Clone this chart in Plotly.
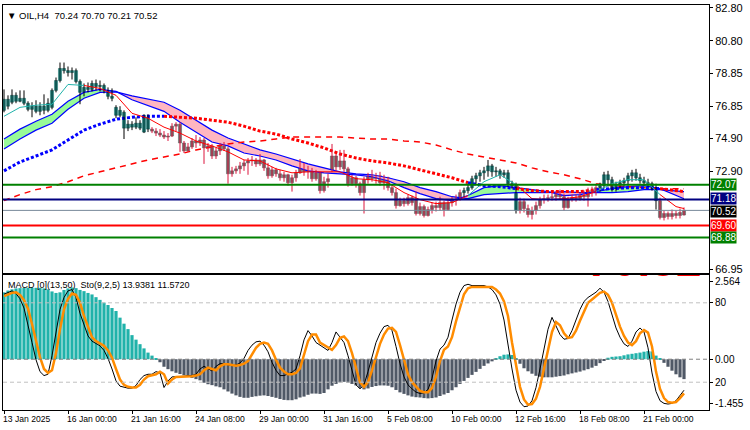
import plotly.graph_objects as go

# ---------------- data ----------------
bars = list(range(171))
opens = [76.59, 77.26, 77.08, 77.50, 77.14, 77.32, 77.02, 76.65, 76.84, 76.53,
         76.84, 76.59, 76.77, 77.80, 78.40, 79.13, 79.00, 78.88, 79.00, 78.34,
         77.68, 77.98, 77.86, 78.22, 78.04, 78.10, 77.74, 77.44, 76.77, 76.29,
         76.47, 75.51, 75.75, 75.57, 75.81, 75.27, 76.17, 75.45, 75.33, 75.21,
         75.09, 74.97, 75.03, 75.63, 75.75, 74.61, 74.13, 74.37, 74.73, 74.61,
         74.79, 74.31, 74.43, 73.82, 74.13, 74.43, 74.25, 72.74, 72.92, 73.04,
         73.22, 73.40, 73.52, 73.58, 73.34, 73.58, 73.10, 72.62, 72.98, 72.74,
         72.50, 72.68, 72.20, 72.50, 72.80, 73.28, 72.86, 72.98, 72.44, 72.80,
         71.72, 72.26, 72.98, 73.82, 73.16, 73.52, 73.04, 72.14, 72.50, 72.14,
         71.60, 72.38, 72.62, 72.44, 72.62, 72.20, 72.50, 71.90, 71.60, 70.81,
         71.11, 70.93, 71.29, 71.23, 70.33, 70.75, 70.21, 70.57, 70.81, 70.69,
         70.99, 70.57, 70.99, 71.17, 71.29, 71.60, 71.72, 71.90, 72.44, 72.62,
         72.80, 72.92, 73.22, 72.86, 72.92, 72.68, 72.80, 72.14, 72.02, 70.51,
         71.05, 70.63, 70.27, 70.51, 70.81, 71.17, 71.23, 71.29, 71.35, 71.48,
         71.35, 70.69, 71.17, 71.29, 71.23, 71.42, 71.35, 71.72, 71.66, 71.90,
         72.02, 72.68, 72.38, 71.84, 72.08, 72.20, 72.32, 72.62, 72.80, 72.50,
         72.32, 72.20, 72.14, 71.90, 71.11, 70.09, 70.33, 70.15, 70.33, 70.21,
         70.24]
highs = [77.86, 77.50, 77.86, 77.68, 77.80, 77.80, 77.14, 77.08, 77.20, 77.08,
         77.56, 77.32, 77.92, 78.58, 79.49, 79.49, 79.25, 79.19, 79.13, 78.46,
         78.22, 78.28, 78.40, 78.46, 78.40, 78.22, 77.98, 77.92, 76.90, 76.84,
         76.59, 75.99, 75.93, 76.17, 75.99, 76.35, 76.35, 75.57, 75.51, 75.45,
         75.33, 75.21, 75.81, 75.87, 75.87, 74.73, 74.61, 74.91, 75.09, 74.97,
         74.91, 74.61, 74.55, 74.31, 74.61, 74.67, 74.37, 73.16, 73.22, 73.46,
         73.58, 73.70, 73.82, 73.70, 73.94, 73.64, 73.40, 73.16, 73.10, 72.98,
         72.86, 72.74, 72.68, 72.98, 73.64, 73.40, 73.22, 73.10, 72.98, 72.86,
         72.56, 72.74, 74.55, 73.94, 74.19, 74.19, 73.16, 72.68, 72.62, 72.26,
         72.56, 72.80, 72.98, 72.80, 72.86, 72.68, 72.56, 72.08, 71.84, 71.29,
         71.29, 71.48, 71.42, 71.66, 70.99, 70.87, 70.75, 70.99, 71.05, 71.35,
         71.11, 71.17, 71.35, 71.48, 71.78, 71.90, 72.08, 72.62, 72.80, 72.98,
         73.16, 73.58, 73.34, 73.16, 73.04, 72.98, 72.98, 72.32, 72.20, 71.29,
         71.23, 70.87, 70.75, 71.05, 71.35, 71.48, 71.48, 71.60, 71.66, 71.78,
         71.54, 71.35, 71.48, 71.48, 71.60, 71.72, 71.90, 71.96, 72.08, 72.20,
         72.86, 72.92, 72.56, 72.26, 72.38, 72.50, 72.80, 72.98, 73.04, 72.74,
         72.56, 72.44, 72.26, 72.14, 71.29, 70.51, 70.45, 70.57, 70.51, 70.63,
         70.70]
lows = [76.47, 76.65, 76.96, 77.02, 77.08, 76.90, 76.53, 76.17, 76.41, 76.29,
        76.35, 76.47, 76.65, 77.68, 78.28, 78.82, 78.64, 78.46, 78.22, 76.96,
        77.44, 77.68, 77.74, 77.80, 77.74, 77.62, 77.26, 77.14, 76.11, 76.17,
        74.85, 75.33, 75.39, 75.45, 75.39, 75.21, 75.27, 75.21, 75.03, 74.97,
        74.85, 74.73, 74.97, 75.33, 74.07, 74.00, 74.07, 74.25, 74.31, 74.43,
        73.34, 74.07, 73.64, 73.64, 73.88, 74.13, 72.14, 72.56, 72.74, 72.74,
        72.92, 72.68, 73.22, 73.16, 73.22, 72.92, 72.44, 72.50, 72.56, 72.32,
        72.26, 72.02, 71.66, 72.26, 72.74, 72.62, 72.44, 72.26, 72.32, 71.54,
        71.60, 71.90, 72.86, 72.92, 72.98, 72.86, 71.96, 72.02, 71.90, 71.42,
        70.33, 72.14, 72.26, 72.14, 72.02, 71.78, 71.72, 71.42, 70.63, 70.75,
        70.75, 70.81, 70.81, 70.21, 70.21, 70.09, 70.15, 70.33, 70.45, 70.51,
        70.15, 70.51, 70.75, 70.81, 71.11, 71.35, 71.54, 71.78, 72.14, 72.26,
        72.38, 72.56, 72.56, 72.56, 72.44, 72.50, 71.96, 71.84, 70.33, 70.33,
        70.39, 70.09, 69.97, 70.27, 70.63, 70.93, 71.05, 71.11, 71.11, 71.17,
        70.51, 70.63, 71.05, 71.05, 71.11, 71.11, 70.75, 71.35, 71.42, 71.66,
        71.84, 71.96, 71.66, 71.66, 71.84, 71.96, 72.02, 72.26, 72.32, 72.14,
        72.02, 71.96, 71.72, 70.57, 69.97, 69.91, 69.97, 69.97, 70.03, 70.03,
        70.21]
closes = [77.26, 76.84, 77.50, 77.14, 77.32, 77.02, 76.65, 76.84, 76.53, 76.84,
          76.59, 77.02, 77.80, 78.40, 79.13, 79.00, 78.88, 79.00, 78.34, 77.68,
          77.98, 77.86, 78.22, 78.04, 78.10, 77.74, 77.44, 77.32, 76.29, 76.59,
          75.51, 75.75, 75.57, 75.81, 75.51, 76.29, 75.45, 75.33, 75.21, 75.09,
          74.97, 75.03, 75.63, 75.75, 74.61, 74.13, 74.37, 74.73, 74.61, 74.79,
          74.31, 74.43, 73.82, 74.13, 74.43, 74.25, 72.74, 72.92, 73.04, 73.22,
          73.40, 73.52, 73.58, 73.34, 73.58, 73.10, 72.62, 72.98, 72.74, 72.50,
          72.68, 72.20, 72.50, 72.80, 73.28, 72.86, 72.98, 72.44, 72.80, 71.72,
          72.26, 72.44, 73.82, 73.16, 73.52, 73.04, 72.14, 72.50, 72.14, 71.60,
          72.38, 72.62, 72.44, 72.62, 72.20, 72.50, 71.90, 71.60, 70.81, 71.11,
          70.93, 71.29, 70.99, 70.33, 70.75, 70.21, 70.57, 70.81, 70.69, 70.99,
          70.57, 70.99, 71.17, 71.29, 71.60, 71.72, 71.90, 72.44, 72.62, 72.80,
          72.92, 73.22, 72.86, 72.92, 72.68, 72.80, 72.14, 72.02, 70.51, 71.05,
          70.63, 70.27, 70.51, 70.81, 71.17, 71.23, 71.29, 71.35, 71.48, 71.35,
          70.69, 71.17, 71.29, 71.23, 71.42, 71.35, 71.72, 71.66, 71.90, 72.02,
          72.68, 72.38, 71.84, 72.08, 72.20, 72.32, 72.62, 72.80, 72.50, 72.32,
          72.20, 72.14, 71.90, 71.11, 70.09, 70.33, 70.15, 70.33, 70.21, 70.39,
          70.52]
candle_teal_ranges = [(0, 36), (115, 128), (149, 163)]

# moving-average style lines, sampled every 4 bars
ma_bars = list(range(0, 169, 4)) + [170]
fast_ma = [76.23, 76.77, 76.90, 76.96, 78.16, 78.10, 77.92, 77.50, 76.41, 76.11,
           75.57, 75.21, 74.73, 74.43, 74.07, 73.58, 73.52, 73.04, 72.80, 72.86,
           72.86, 72.86, 72.44, 72.38, 72.20, 71.60, 71.17, 70.93, 70.99, 71.42,
           72.26, 72.68, 72.08, 71.23, 71.17, 71.23, 71.35, 71.66, 72.14, 72.38,
           72.38, 71.48, 70.75, 70.63]
fast_teal_ranges = [(0, 18), (115, 128), (149, 162)]
band_fast = [74.85, 75.45, 75.93, 76.35, 77.14, 77.68, 77.86, 77.74, 77.23, 76.90,
             76.53, 75.87, 75.27, 74.67, 74.43, 74.00, 73.82, 73.58, 73.22, 72.92,
             72.80, 72.74, 72.68, 72.56, 72.32, 71.90, 71.54, 71.23, 71.11, 71.42,
             71.90, 72.02, 71.90, 71.78, 71.66, 71.42, 71.48, 71.66, 71.84, 71.96,
             72.02, 71.84, 71.42, 71.23]
band_slow = [74.25, 74.85, 75.39, 75.81, 76.65, 77.32, 77.68, 77.71, 77.47, 77.26,
             77.08, 76.59, 75.99, 75.39, 74.91, 74.55, 74.19, 73.94, 73.64, 73.34,
             73.10, 72.86, 72.74, 72.68, 72.50, 72.26, 71.90, 71.66, 71.35, 71.23,
             71.48, 71.54, 71.60, 71.60, 71.60, 71.66, 71.60, 71.60, 71.60, 71.66,
             71.78, 71.78, 71.72, 71.66]
dot_ma = [72.92, 73.46, 73.82, 74.19, 74.79, 75.39, 75.75, 76.05, 76.17, 76.23,
          76.23, 76.17, 76.11, 75.99, 75.87, 75.63, 75.33, 75.15, 74.85, 74.61,
          74.31, 73.94, 73.70, 73.52, 73.40, 73.22, 72.98, 72.74, 72.50, 72.20,
          72.02, 71.96, 71.84, 71.72, 71.66, 71.66, 71.66, 71.78, 71.84, 71.90,
          71.90, 71.84, 71.72, 71.66]
dot_blue_ranges = [(0, 40), (116, 128), (149, 162)]
dash_ma = [71.11, 71.48, 71.78, 71.96, 72.26, 72.62, 72.86, 73.10, 73.34, 73.58,
           73.76, 73.94, 74.19, 74.37, 74.55, 74.67, 74.73, 74.85, 74.97, 74.97,
           74.97, 74.97, 74.91, 74.85, 74.85, 74.73, 74.67, 74.49, 74.19, 73.94,
           73.76, 73.58, 73.40, 73.10, 72.86, 72.68, 72.44, 72.14, 72.02, 71.96,
           71.90, 71.84, 71.84, 71.84]

# horizontal levels
levels = [72.07, 71.18, 70.52, 69.60, 68.88]
level_colors = ['#008000', '#000080', '#778899', '#ff0000', '#008000']
level_widths = [2, 2, 1, 2, 2]
level_box = ['#008000', '#000080', '#000000', '#ff0000', '#008000']
level_box_nudge = [0, 1, -1, 0, 0]

# sub window
macd_hist = [2.22, 2.28, 2.32, 2.35, 2.36, 2.37, 2.37, 2.37, 2.37, 2.37,
             2.35, 2.32, 2.25, 2.20, 2.22, 2.30, 2.35, 2.38, 2.36, 2.30,
             2.26, 2.20, 2.15, 2.06, 1.97, 1.88, 1.80, 1.70, 1.60, 1.38,
             1.18, 1.00, 0.80, 0.65, 0.50, 0.36, 0.22, 0.12, 0.04, -0.10,
             -0.25, -0.33, -0.40, -0.45, -0.49, -0.53, -0.58, -0.62, -0.66, -0.70,
             -0.78, -0.83, -0.86, -0.90, -0.93, -1.00, -1.07, -1.14, -1.20, -1.25,
             -1.28, -1.28, -1.25, -1.23, -1.21, -1.20, -1.22, -1.25, -1.28, -1.32,
             -1.35, -1.36, -1.36, -1.33, -1.27, -1.24, -1.18, -1.14, -1.14, -1.15,
             -1.12, -1.00, -0.88, -0.82, -0.77, -0.75, -0.78, -0.82, -0.87, -0.95,
             -1.00, -0.97, -0.92, -0.89, -0.87, -0.87, -0.88, -0.93, -1.02, -1.10,
             -1.15, -1.20, -1.24, -1.26, -1.27, -1.29, -1.30, -1.29, -1.27, -1.22,
             -1.17, -1.12, -1.03, -0.93, -0.82, -0.72, -0.62, -0.52, -0.42, -0.32,
             -0.22, -0.14, -0.07, 0.04, 0.10, 0.15, 0.16, 0.14, 0.02, -0.15,
             -0.30, -0.40, -0.48, -0.55, -0.58, -0.60, -0.60, -0.60, -0.58, -0.56,
             -0.54, -0.50, -0.47, -0.44, -0.41, -0.37, -0.33, -0.28, -0.22, -0.13,
             -0.05, 0.05, 0.08, 0.09, 0.10, 0.13, 0.16, 0.18, 0.20, 0.22,
             0.25, 0.27, 0.26, 0.12, 0.03, -0.12, -0.25, -0.38, -0.50, -0.60,
             -0.66]
sto_main = [86.5, 88, 89, 87, 83, 76, 64, 50, 37, 28,
            25, 26, 40, 58, 75, 84, 89, 90, 84, 72,
            63, 55, 51, 49, 47.5, 44, 38, 30, 21, 17,
            16, 15.5, 15.5, 17.5, 22, 25, 26, 26, 28, 27,
            16, 21, 24, 24, 24.5, 24.5, 25, 25, 26, 30,
            32, 30, 28.5, 32, 34, 34, 33, 32.5, 33, 34.5,
            38, 44, 48, 50.5, 51, 48, 43, 35, 29, 25,
            25, 26, 27.5, 30, 40, 52, 59, 55, 50, 48,
            46, 44, 50, 58, 54, 50, 40, 28, 18, 15,
            18, 28, 40, 50, 57, 62, 63, 59, 47, 34,
            24, 18, 15, 12.5, 11.5, 12, 14.5, 23, 36, 45,
            48, 54, 67, 79, 88, 93, 94, 93, 93, 93,
            93, 92, 90, 86, 79, 67, 48, 30, 14, 5,
            1.5, 2, 6, 16, 30, 46, 60, 69, 63, 56,
            52.5, 53, 59, 67, 75, 81, 84, 86, 88, 91,
            88, 81, 71, 61, 54, 49, 47, 51, 58, 61,
            58, 46, 27, 13, 6, 4, 3.5, 4, 6, 10,
            13.94]
sto_signal = [85, 86.5, 87.5, 88, 86, 82, 75.5, 64, 51, 39,
              30, 27, 29, 42, 60, 75, 83, 87, 86, 80,
              70, 62, 54, 51, 49, 47.5, 44, 38.5, 30, 22,
              18, 16.5, 16, 16, 18, 22, 24.5, 25.5, 26, 28,
              26, 19, 22, 24, 24, 24, 24, 24.5, 25, 26,
              29, 31, 30, 29, 32, 33.5, 33.5, 33, 32.5, 33,
              34, 36, 41, 46, 49, 50, 49, 44, 37, 31,
              28, 26, 26, 27, 30.5, 41, 51, 56, 56, 50,
              48, 46.5, 44.5, 48, 53.5, 54.5, 51, 42, 30, 20,
              16.5, 20, 29, 40, 49, 56, 60.5, 61, 58, 48,
              36, 26, 20, 16.5, 13.5, 12.5, 12.5, 15.5, 24, 36,
              44.5, 47, 54, 66, 77, 86.5, 91, 92, 92, 92,
              92, 92.5, 92, 90, 87, 81, 70, 50, 34, 16.5,
              7, 3, 3.5, 7.5, 16.5, 30, 45, 58, 65.5, 63,
              57, 53.5, 54, 59, 66.5, 74, 80, 82.5, 85, 87.5,
              88.5, 86, 80, 71, 62, 55, 50, 48, 51, 57,
              59.5, 57.5, 47, 28, 15, 8, 5, 4.5, 5, 8,
              11.57]

time_label_bars = [0, 16, 32, 48, 64, 80, 96, 112, 128, 144, 160]
time_labels = ['13 Jan 2025', '16 Jan 00:00', '21 Jan 16:00', '24 Jan 08:00',
               '29 Jan 00:00', '31 Jan 16:00', '5 Feb 08:00', '10 Feb 00:00',
               '12 Feb 16:00', '18 Feb 08:00', '21 Feb 00:00']
price_ticks = [82.80, 80.80, 78.85, 76.85, 74.90, 72.90, 66.95]
price_tick_text = ['82.80', '80.80', '78.85', '76.85', '74.90', '72.90', '66.95']
title_text = 'OIL,H4\u00a0\u00a070.24 70.70 70.21 70.52'
sub_title = 'MACD [0](13,50)\u00a0\u00a0Sto(9,2,5) 13.9381 11.5720'

# ---------------- colours ----------------
TEAL = '#20b2aa'
GRAY = '#6a6a6a'
HIST_NEG = '#4f5866'
FONT = 'Liberation Sans, Arial, sans-serif'


def in_ranges(v, ranges):
    return any(a <= v <= b for a, b in ranges)


def colored_segments(xs, ys, ranges, c_in, c_out):
    segs = []
    cur = None
    for k in range(len(xs) - 1):
        mid = (xs[k] + xs[k + 1]) / 2
        col = c_in if in_ranges(mid, ranges) else c_out
        if cur is not None and cur[2] == col:
            cur[0].append(xs[k + 1])
            cur[1].append(ys[k + 1])
        else:
            cur = [[xs[k], xs[k + 1]], [ys[k], ys[k + 1]], col]
            segs.append(cur)
    return segs


fig = go.Figure()

# ---- band fill (green / pink) ----
flags = [(band_fast[k] + band_fast[k + 1]) > (band_slow[k] + band_slow[k + 1])
         for k in range(len(ma_bars) - 1)]
start = 0
runs = []
for k in range(1, len(flags) + 1):
    if k == len(flags) or flags[k] != flags[start]:
        runs.append((start, k, flags[start]))
        start = k
for a, b, up in runs:
    xs = ma_bars[a:b + 1]
    fig.add_trace(go.Scatter(x=xs, y=band_slow[a:b + 1], mode='lines', line=dict(width=0),
                             hoverinfo='skip', xaxis='x', yaxis='y'))
    fig.add_trace(go.Scatter(x=xs, y=band_fast[a:b + 1], mode='lines', line=dict(width=0),
                             fill='tonexty', fillcolor='#98fb98' if up else '#ffb6c1',
                             hoverinfo='skip', xaxis='x', yaxis='y'))
for arr in (band_slow, band_fast):
    fig.add_trace(go.Scatter(x=ma_bars, y=arr, mode='lines', line=dict(color='#0000ff', width=1.2),
                             hoverinfo='skip', xaxis='x', yaxis='y'))

# ---- long dashed MA ----
fig.add_trace(go.Scatter(x=ma_bars, y=dash_ma, mode='lines',
                         line=dict(color='#ff0000', width=1.5, dash='6px,5px'),
                         hoverinfo='skip', xaxis='x', yaxis='y'))

# ---- dotted MA ----
for xs, ys, col in colored_segments(ma_bars, dot_ma, dot_blue_ranges, '#0000ff', '#ff0000'):
    fig.add_trace(go.Scatter(x=xs, y=ys, mode='lines', line=dict(color=col, width=3, dash='3px,2px'),
                             hoverinfo='skip', xaxis='x', yaxis='y'))

# ---- candles ----
wx_k, wy_k, wx_r, wy_r = [], [], [], []
body_base, body_h, body_col, body_line = [], [], [], []
for i in bars:
    teal = in_ranges(i, candle_teal_ranges)
    if teal:
        wx_k += [i, i, None]
        wy_k += [lows[i], highs[i], None]
    else:
        wx_r += [i, i, None]
        wy_r += [lows[i], highs[i], None]
    lo = min(opens[i], closes[i])
    hi = max(opens[i], closes[i])
    body_base.append(lo)
    body_h.append(max(hi - lo, 0.02))
    body_col.append(TEAL if teal else GRAY)
    body_line.append('#1f4f4c' if teal else '#5a5a5a')
fig.add_trace(go.Scatter(x=wx_k, y=wy_k, mode='lines', line=dict(color='black', width=1),
                         hoverinfo='skip', xaxis='x', yaxis='y'))
fig.add_trace(go.Scatter(x=wx_r, y=wy_r, mode='lines', line=dict(color='#dc143c', width=1),
                         hoverinfo='skip', xaxis='x', yaxis='y'))
fig.add_trace(go.Bar(x=bars, y=body_h, base=body_base, width=0.78,
                     marker=dict(color=body_col, line=dict(color=body_line, width=0.5)),
                     hoverinfo='skip', xaxis='x', yaxis='y'))

# ---- fast MA (teal / red) ----
for xs, ys, col in colored_segments(ma_bars, fast_ma, fast_teal_ranges, '#20b2aa', '#ff0000'):
    fig.add_trace(go.Scatter(x=xs, y=ys, mode='lines', line=dict(color=col, width=1),
                             hoverinfo='skip', xaxis='x', yaxis='y'))

# ---- sub window: MACD histogram + stochastic ----
fig.add_trace(go.Bar(x=bars, y=macd_hist, width=0.8,
                     marker=dict(color=[TEAL if v >= 0 else HIST_NEG for v in macd_hist], line=dict(width=0)),
                     hoverinfo='skip', xaxis='x2', yaxis='y2'))
fig.add_trace(go.Scatter(x=bars, y=sto_main, mode='lines', line=dict(color='black', width=1),
                         hoverinfo='skip', xaxis='x2', yaxis='y3'))
fig.add_trace(go.Scatter(x=bars, y=sto_signal, mode='lines', line=dict(color='#ff8c00', width=2.5),
                         hoverinfo='skip', xaxis='x2', yaxis='y3'))
# big red price text, cut by the top of the sub window
fig.add_trace(go.Scatter(x=[160], y=[109], mode='text', text=['<b>70.52</b>'],
                         textfont=dict(size=46, color='#ff0000', family=FONT),
                         cliponaxis=True, hoverinfo='skip', xaxis='x2', yaxis='y3'))

shapes = []
for v, c, w in zip(levels, level_colors, level_widths):
    shapes.append(dict(type='line', xref='x domain', yref='y', x0=0, x1=1, y0=v, y1=v,
                       line=dict(color=c, width=w)))
for v in (80, 20):
    shapes.append(dict(type='line', xref='x2 domain', yref='y3', x0=0, x1=1, y0=v, y1=v,
                       line=dict(color='#c0c0c0', width=1, dash='4px,3px')))
shapes.append(dict(type='line', xref='x2 domain', yref='y2', x0=0, x1=1, y0=0, y1=0,
                   line=dict(color='#808080', width=1, dash='4px,3px')))

annotations = []
annotations.append(dict(xref='paper', yref='paper', x=0, y=1, xanchor='left', yanchor='top',
                        xshift=2, yshift=-3, showarrow=False,
                        text='\u25bc\u00a0' + title_text,
                        font=dict(size=9.5, color='black', family=FONT)))
annotations.append(dict(xref='paper', yref='y2 domain', x=0, y=1, xanchor='left', yanchor='top',
                        xshift=3, yshift=-3, showarrow=False, text=sub_title,
                        font=dict(size=9, color='black', family=FONT)))
for b, t in zip(time_label_bars, time_labels):
    annotations.append(dict(xref='x2', yref='paper', x=b, y=0, xanchor='left', yanchor='top',
                            xshift=-3, yshift=-2, showarrow=False, text=t,
                            font=dict(size=8.6, color='black', family=FONT)))
for v, bc, nd in zip(levels, level_box, level_box_nudge):
    annotations.append(dict(xref='paper', yref='y', x=1, y=v, xanchor='left', yanchor='middle',
                            xshift=1, yshift=nd, showarrow=False, text='%.2f' % v, bgcolor=bc,
                            borderpad=0, font=dict(size=10, color='white', family=FONT)))

axis_common = dict(showgrid=False, zeroline=False, showline=True, mirror=True,
                   linecolor='black', linewidth=1)
fig.update_layout(
    width=750, height=430, margin=dict(l=3, r=41, t=2, b=20),
    paper_bgcolor='white', plot_bgcolor='white', showlegend=False,
    barmode='overlay', font=dict(family=FONT, color='black'),
    xaxis=dict(domain=[0, 1], range=[-0.25, 176.25], anchor='y', showticklabels=False,
               ticks='', **axis_common),
    yaxis=dict(domain=[0.338, 1], range=[66.715, 82.98], side='right', anchor='x',
               tickvals=price_ticks, ticktext=price_tick_text, ticks='outside', ticklen=3,
               tickcolor='black', ticklabeloverflow='allow',
               tickfont=dict(size=11, family=FONT), **axis_common),
    xaxis2=dict(domain=[0, 1], range=[-0.25, 176.25], anchor='y2', matches='x',
                showticklabels=False, tickvals=time_label_bars, ticks='outside', ticklen=3,
                tickcolor='black', **axis_common),
    yaxis2=dict(domain=[0, 0.3333], range=[-1.685, 2.795], side='right', anchor='x2',
                tickvals=[2.564, 0, -1.455], ticktext=['2.564', '0.00', '-1.455'],
                ticks='outside', ticklen=3, tickcolor='black', ticklabeloverflow='allow',
                tickfont=dict(size=10, family=FONT), **axis_common),
    yaxis3=dict(overlaying='y2', range=[-1, 101], side='right', anchor='x2',
                tickvals=[80, 20], ticktext=['80', '20'], ticks='outside', ticklen=3,
                tickcolor='black', showgrid=False, zeroline=False, showline=False,
                ticklabeloverflow='allow', tickfont=dict(size=10, family=FONT)),
    shapes=shapes, annotations=annotations,
)

fig.write_html('out.html')
